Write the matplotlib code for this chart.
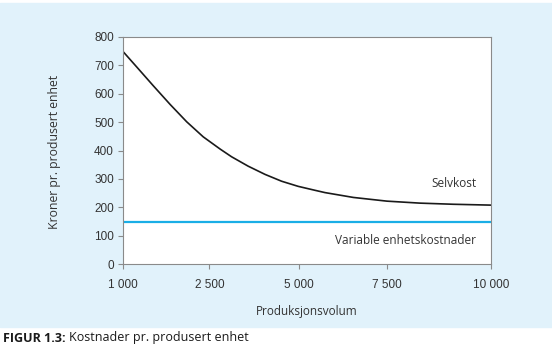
import matplotlib.pyplot as plt
from matplotlib.patches import Rectangle

# Data (x as fraction along the volume axis)
volum_pos = [0.0, 0.037, 0.082, 0.128, 0.173, 0.218, 0.264, 0.295, 0.340,
             0.386, 0.431, 0.476, 0.522, 0.549, 0.626, 0.717, 0.807, 0.898, 1.0]
selvkost = [748, 694, 628, 562, 501, 448, 405, 378, 345,
            316, 292, 274, 260, 252, 235, 222, 215, 211, 208]
variable_kost = [150, 150]
variable_pos = [0.0, 1.0]

tick_pos = [0.0, 0.235, 0.477, 0.717, 1.0]
tick_labels = ['1 000', '2 500', '5 000', '7 500', '10 000']
y_ticks = [0, 100, 200, 300, 400, 500, 600, 700, 800]

W, H = 552, 349
BG = '#e1f2fb'
AXC = '#8a8a8a'
TXT = '#333333'
LINE_BLUE = '#1aaee6'

fig = plt.figure(figsize=(W / 100, H / 100), dpi=100)

def fx(px):
    return px / W

def fy(py):
    return 1 - py / H

# light blue panel behind the chart
bg = Rectangle((0, fy(327)), 1, fy(3) - fy(327), transform=fig.transFigure,
               color=BG, zorder=-10)
fig.add_artist(bg)

ax = fig.add_axes([fx(123), fy(264.3), fx(491) - fx(123), fy(36.7) - fy(264.3)])
ax.set_zorder(5)
ax.set_facecolor('white')

ax.plot(volum_pos, selvkost, color='#1a1a1a', lw=1.2)
ax.plot(variable_pos, variable_kost, color=LINE_BLUE, lw=1.6)

ax.set_xlim(0, 1)
ax.set_ylim(0, 800)
ax.set_xticks(tick_pos)
ax.set_xticklabels(tick_labels)
ax.set_yticks(y_ticks)

for s in ax.spines.values():
    s.set_color(AXC)
    s.set_linewidth(0.8)
ax.tick_params(colors=AXC, length=3.5, width=0.8, labelcolor=TXT,
               labelsize=8.5)
for lab in ax.get_xticklabels() + ax.get_yticklabels():
    lab.set_family('Liberation Sans')
ax.tick_params(axis='x', pad=7)
ax.tick_params(axis='y', pad=3)

lab_font = 'Open Sans'
ax.text(fx(476), fy(184), 'Selvkost', ha='right', va='center',
        fontsize=8.5, color=TXT, family=lab_font, transform=fig.transFigure)
ax.text(fx(476), fy(240), 'Variable enhetskostnader', ha='right', va='center',
        fontsize=8.5, color=TXT, family=lab_font, transform=fig.transFigure)
fig.text(fx(307), fy(311.5), 'Produksjonsvolum', ha='center', va='center',
         fontsize=8.5, color=TXT, family=lab_font)
fig.text(fx(55), fy(151.5), 'Kroner pr. produsert enhet', ha='center', va='center',
         rotation=90, fontsize=8.8, color=TXT, family=lab_font)

# caption: bold label followed by plain text
cap1 = fig.text(fx(3), fy(338), 'FIGUR 1.3:', ha='left', va='center', fontsize=9,
                fontweight='bold', color='#1a1a1a', family=lab_font)
fig.canvas.draw()
bb = cap1.get_window_extent()
fig.text(bb.x1 / W + fx(3), fy(338), 'Kostnader pr. produsert enhet', ha='left',
         va='center', fontsize=9, color='#1a1a1a', family=lab_font)

fig.savefig('out.png', dpi=100, facecolor='white')
